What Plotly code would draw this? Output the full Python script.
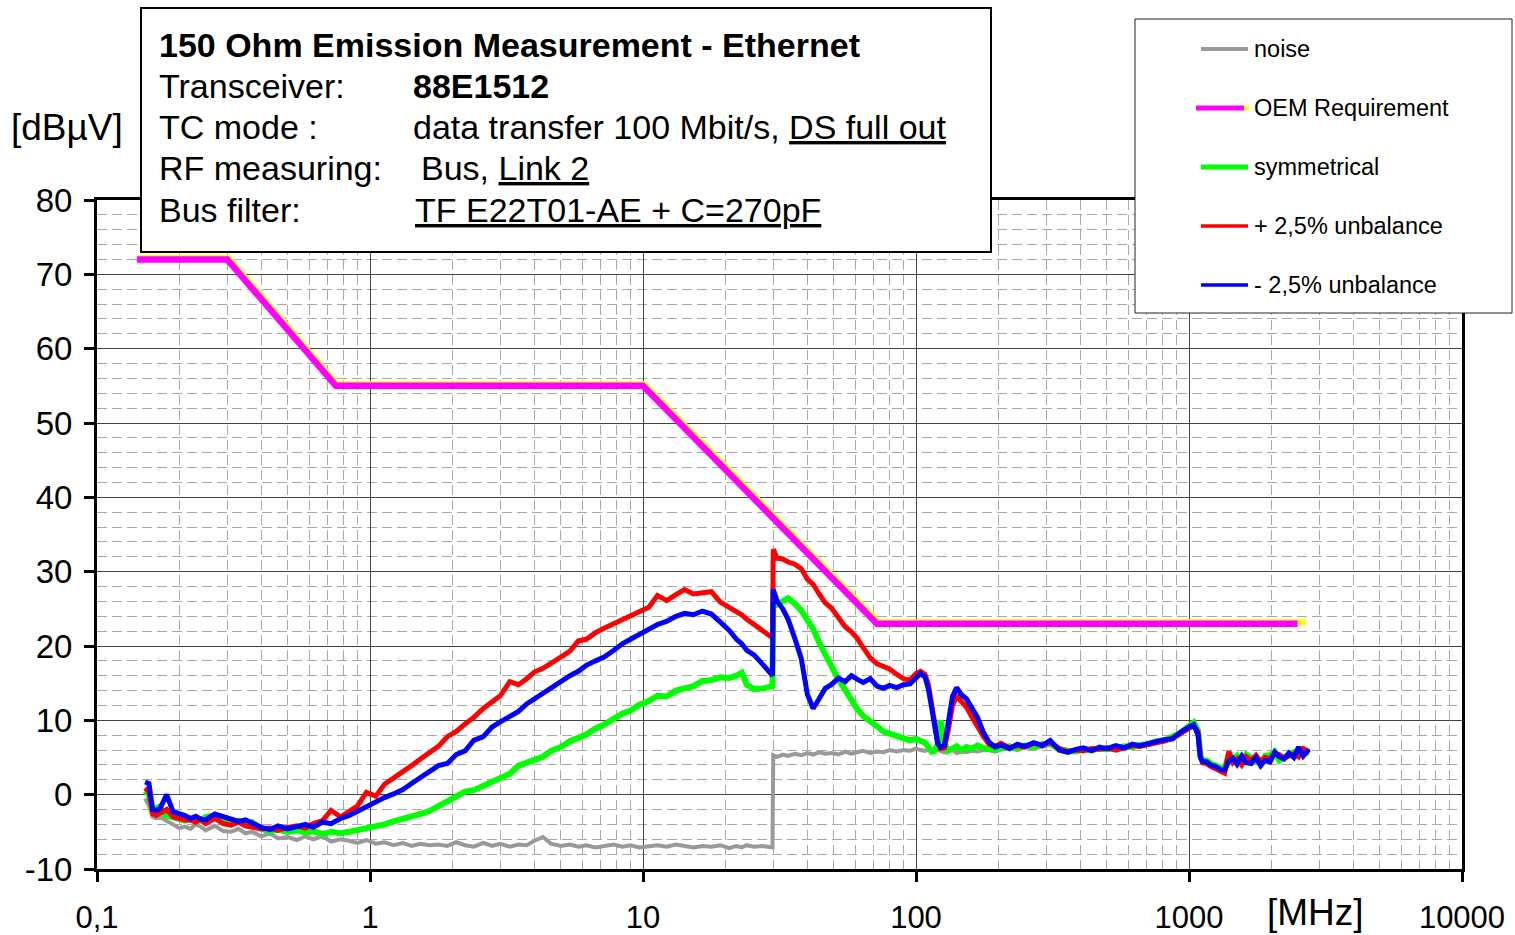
import plotly.graph_objects as go

# ---------------- data ----------------
FREQ_MHZ = [
    0.15, 0.155, 0.16, 0.165, 0.17, 0.175, 0.18, 0.19, 0.2, 0.21,
    0.22, 0.23, 0.24, 0.25, 0.27, 0.29, 0.31, 0.33, 0.35, 0.37,
    0.4, 0.43, 0.46, 0.5, 0.54, 0.58, 0.62, 0.67, 0.72, 0.78,
    0.84, 0.9, 0.97, 1.05, 1.13, 1.22, 1.32, 1.42, 1.53, 1.65,
    1.78, 1.92, 2.07, 2.23, 2.4, 2.6, 2.8, 3.0, 3.25, 3.5,
    3.75, 4.0, 4.3, 4.6, 5.0, 5.4, 5.8, 6.2, 6.7, 7.2,
    7.8, 8.4, 9.0, 9.7, 10.5, 11.3, 12.2, 13.2, 14.2, 15.3,
    16.5, 17.8, 19.2, 20.7, 22.0, 23.0, 24.0, 25.5, 27.5, 29.8,
    30.0, 31.0, 32.5, 34.0, 36.0, 38.0, 40.0, 42.0, 44.0, 46.5,
    49, 52, 55, 58, 61, 64, 68, 72, 76, 80,
    85, 90, 95, 100, 104, 108, 111, 114, 117, 120,
    123, 127, 131, 136, 141, 147, 153, 160, 168, 176,
    185, 195, 205, 220, 235, 250, 270, 290, 310, 335,
    360, 385, 410, 440, 470, 500, 540, 580, 620, 660,
    710, 760, 810, 870, 930, 990, 1040, 1080, 1100, 1120,
    1160, 1200, 1250, 1300, 1350, 1400, 1450, 1500, 1560, 1620,
    1690, 1760, 1830, 1900, 1980, 2060, 2140, 2230, 2320, 2420,
    2520, 2620, 2750,
]

NOISE = [
    -0.5, -1.5, -3.0, -3.2, -3.0, -3.3, -3.5, -4.0, -4.5, -4.3,
    -4.6, -4.0, -4.3, -4.8, -4.2, -4.9, -5.0, -4.6, -5.2, -5.0,
    -5.6, -5.2, -5.9, -5.7, -6.1, -5.6, -6.0, -5.6, -6.3, -6.0,
    -6.2, -6.5, -6.1, -6.6, -6.4, -6.8, -6.5, -6.9, -6.6, -6.8,
    -6.7, -6.9, -6.4, -6.8, -7.0, -6.5, -6.9, -6.6, -7.0, -6.7,
    -6.8, -6.2, -5.7, -6.6, -6.9, -6.7, -7.0, -6.8, -7.1, -6.9,
    -6.7, -7.0, -6.8, -7.1, -6.9, -6.8, -7.0, -6.7, -6.9, -7.1,
    -6.9, -7.0, -6.8, -7.2, -6.9, -7.1, -6.8, -7.0, -6.9, -7.1,
    5.3, 5.1, 5.4, 5.2, 5.5, 5.3, 5.6, 5.4, 5.7, 5.5,
    5.6, 5.4, 5.8, 5.5, 5.7, 5.9, 5.6, 5.8, 5.7, 6.0,
    5.8, 6.0, 5.9, 6.2, 6.0, 5.9, 6.1, 5.8, 5.9, 6.0,
    5.9, 5.7, 5.8, 6.0, 5.6, 5.8, 5.7, 5.9, 5.8, 6.0,
    6.0, 5.8, 6.1, 6.3, 6.0, 6.4, 6.2, 6.5, 6.7, 5.9,
    5.7, 5.9, 5.8, 6.0, 6.1, 6.0, 6.2, 6.4, 6.3, 6.6,
    6.7, 7.0, 7.1, 7.5, 8.1, 8.9, 9.5, 8.3, 5.1, 4.4,
    4.3, 4.0, 3.7, 3.3, 3.1, 5.0, 4.4, 4.9, 4.2, 5.0,
    4.7, 4.3, 4.2, 5.0, 5.1, 5.6, 4.7, 4.9, 5.3, 5.5,
    5.2, 5.8, 5.5,
]

SYMMETRICAL = [
    0.5, 0.0, -2.5, -1.8, -1.6, -2.6, -2.8, -3.0, -3.3, -3.5,
    -3.3, -3.2, -3.5, -3.0, -2.8, -3.2, -3.8, -3.5, -3.9, -3.7,
    -4.6, -4.9, -4.7, -5.0, -4.8, -5.1, -4.9, -5.3, -5.0, -5.2,
    -5.0, -4.8, -4.6, -4.3, -4.0, -3.6, -3.3, -2.9, -2.6, -2.2,
    -1.6, -0.9, -0.2, 0.4, 0.6, 1.2, 1.9, 2.3, 2.8, 3.9,
    4.3, 4.6, 5.1, 5.9, 6.4, 7.2, 7.7, 8.1, 8.9, 9.4,
    10.2, 10.9, 11.3, 12.1, 12.6, 13.3, 13.2, 14.0, 14.3, 14.6,
    15.3, 15.4, 15.8, 15.7, 16.0, 16.4, 14.8, 14.2, 14.3, 14.6,
    26.0, 25.6, 26.0, 26.4, 25.7, 24.8, 23.5, 22.3, 20.6, 18.8,
    17.0, 15.5, 14.1, 12.6, 11.5, 10.6, 10.0, 9.2, 8.5, 8.2,
    8.0, 7.7, 7.3, 7.5, 7.2, 7.0, 6.4, 5.8, 5.9, 6.8,
    10.0, 7.0, 5.9, 6.1, 6.5, 6.0, 6.4, 6.2, 6.6, 6.3,
    6.2, 6.0, 6.3, 6.5, 6.2, 6.6, 6.4, 6.8, 6.9, 6.1,
    5.9, 5.8, 6.1, 6.0, 6.2, 6.1, 6.3, 6.5, 6.4, 6.7,
    6.8, 7.2, 7.3, 7.8, 8.3, 9.1, 9.7, 8.6, 5.3, 4.6,
    4.6, 4.2, 3.9, 3.6, 3.4, 5.5, 4.7, 5.2, 4.4, 5.4,
    4.9, 4.4, 4.1, 5.2, 5.3, 5.8, 4.6, 5.0, 5.4, 5.7,
    5.3, 5.9, 5.6,
]

PLUS_UNBAL = [
    0.9, 0.4, -2.6, -2.8, -2.5, -2.2, -2.0, -3.0, -3.2, -3.4,
    -3.4, -3.7, -3.3, -3.9, -3.2, -3.9, -4.1, -3.7, -4.2, -4.4,
    -4.6, -4.5, -4.8, -4.4, -4.2, -4.5, -3.9, -3.5, -2.1, -3.0,
    -2.2, -1.5, 0.3, -0.2, 1.4, 2.2, 3.0, 3.9, 4.8, 5.6,
    6.5, 7.8, 8.5, 9.5, 10.4, 11.6, 12.5, 13.3, 15.2, 14.8,
    15.6, 16.5, 17.0, 17.6, 18.5, 19.3, 20.7, 20.9, 21.8, 22.4,
    23.0, 23.6, 24.2, 24.7, 25.2, 26.8, 26.1, 26.9, 27.6, 27.0,
    27.2, 27.3, 25.9, 25.2, 24.6, 24.2, 23.6, 22.9, 22.0, 21.1,
    33.0, 31.8, 31.7, 31.3, 31.0, 30.4, 29.0, 28.3, 27.1, 25.8,
    25.1, 23.9, 22.6, 21.9, 21.0, 19.8, 18.4, 17.6, 17.3, 16.9,
    16.2, 15.6, 15.4, 16.3, 16.6, 16.2, 14.8, 12.2, 9.5, 7.2,
    6.2, 6.3, 8.5, 12.0, 13.2, 12.6, 11.8, 10.5, 9.1, 7.9,
    6.8, 6.5, 6.9, 6.3, 6.6, 6.4, 6.9, 6.7, 7.0, 6.2,
    5.8, 6.0, 5.9, 6.2, 6.1, 6.3, 6.0, 6.4, 6.6, 6.5,
    6.7, 7.0, 7.2, 7.6, 8.2, 8.8, 9.3, 8.4, 5.2, 4.3,
    4.2, 3.8, 3.5, 3.1, 2.9, 5.8, 4.3, 4.8, 4.0, 5.1,
    4.6, 5.3, 4.5, 5.0, 4.8, 5.6, 5.4, 4.9, 5.2, 5.5,
    5.1, 6.2, 5.8,
]

MINUS_UNBAL = [
    1.7, 1.5, -2.0, -2.1, -1.9, -1.0, 0.0, -2.3, -2.5, -2.8,
    -3.2, -2.9, -3.3, -3.4, -2.6, -3.0, -3.3, -3.6, -3.4, -3.8,
    -4.4, -4.7, -4.2, -4.6, -4.3, -4.0, -4.4, -3.7, -3.9, -3.2,
    -2.8, -2.2, -1.6, -1.0, -0.4, 0.1, 0.7, 1.5, 2.3, 3.1,
    3.9, 4.2, 5.4, 5.9, 7.3, 7.8, 9.1, 9.8, 10.5, 11.2,
    12.2, 12.9, 13.5, 14.4, 15.2, 16.0, 16.6, 17.4, 18.0, 18.5,
    19.4, 20.3, 20.9, 21.5, 22.3, 22.9, 23.3, 24.0, 24.4, 24.2,
    24.7, 24.3, 23.2, 22.1, 20.9, 20.3, 19.4, 18.8, 17.5, 16.0,
    27.6, 26.0, 25.0, 23.6, 21.0, 18.3, 13.5, 11.6, 12.8, 14.3,
    14.8, 15.7, 15.2, 16.0, 15.5, 15.1, 15.6, 14.6, 14.3, 14.7,
    14.4, 14.8, 14.9, 15.6, 16.3, 15.8, 14.2, 11.8, 9.0, 6.9,
    6.4, 6.6, 9.5, 13.2, 14.4, 13.4, 12.9, 11.8, 10.4, 8.5,
    7.1, 6.4, 6.7, 6.2, 6.8, 6.5, 7.0, 6.6, 7.3, 6.0,
    5.7, 6.1, 6.3, 5.9, 6.4, 6.2, 6.6, 6.3, 6.8, 6.6,
    6.9, 7.1, 7.4, 7.5, 8.4, 9.0, 9.4, 8.0, 5.0, 4.5,
    4.4, 4.0, 3.8, 3.4, 3.3, 4.5, 4.9, 4.1, 5.2, 4.3,
    4.2, 5.0, 3.9, 4.6, 4.4, 5.7, 5.1, 4.8, 5.6, 5.0,
    6.4, 5.2, 6.1,
]

OEM_FREQ = [0.14, 0.3, 0.75, 10, 72, 2500]
OEM_LIMIT = [72, 72, 55, 55, 23, 23]

X_TICKS = [0.1, 1, 10, 100, 1000, 10000]
X_TICK_TEXT = ["0,1", "1", "10", "100", "1000", "10000"]
Y_TICKS = [-10, 0, 10, 20, 30, 40, 50, 60, 70, 80]
Y_TICK_TEXT = ["-10", "0", "10", "20", "30", "40", "50", "60", "70", "80"]

SERIES_NAMES = ["noise", "OEM Requirement", "symmetrical",
                "+ 2,5% unbalance", "- 2,5% unbalance"]

# ---------------- styling ----------------
FONT = "Arial, Liberation Sans, sans-serif"
W, H = 1515, 935
L, R, T, B = 97, 1462, 200, 869  # plot-area pixel box


def px(X):
    return (X - L) / (R - L)


def py(Y):
    return (B - Y) / (B - T)


fig = go.Figure()

fig.add_trace(go.Scatter(x=FREQ_MHZ, y=NOISE, mode="lines", name=SERIES_NAMES[0],
                         line=dict(color="#999999", width=4), showlegend=False))
# yellow rim of the requirement line (slightly offset behind the magenta)
fig.add_trace(go.Scatter(x=[f * 1.012 for f in OEM_FREQ[:-1]] + [OEM_FREQ[-1] * 1.07],
                         y=[v + 0.2 for v in OEM_LIMIT], mode="lines",
                         line=dict(color="#FFFF00", width=6), showlegend=False,
                         hoverinfo="skip"))
fig.add_trace(go.Scatter(x=OEM_FREQ, y=OEM_LIMIT, mode="lines", name=SERIES_NAMES[1],
                         line=dict(color="#FF00FF", width=6.5), showlegend=False))
fig.add_trace(go.Scatter(x=FREQ_MHZ, y=SYMMETRICAL, mode="lines", name=SERIES_NAMES[2],
                         line=dict(color="#00FF00", width=6), showlegend=False))
fig.add_trace(go.Scatter(x=FREQ_MHZ, y=PLUS_UNBAL, mode="lines", name=SERIES_NAMES[3],
                         line=dict(color="#FF0000", width=5), showlegend=False))
fig.add_trace(go.Scatter(x=FREQ_MHZ, y=MINUS_UNBAL, mode="lines", name=SERIES_NAMES[4],
                         line=dict(color="#0000FF", width=5), showlegend=False))

x_minor = [m * 10 ** e for e in range(-1, 4) for m in range(2, 10)]

fig.update_xaxes(
    type="log", range=[-1, 4], automargin=False,
    tickmode="array", tickvals=X_TICKS, ticktext=X_TICK_TEXT,
    ticks="outside", ticklen=10, tickwidth=3, tickcolor="black",
    ticklabelstandoff=9,
    tickfont=dict(family=FONT, size=31, color="black"),
    showline=True, linewidth=3, linecolor="black", mirror=True,
    showgrid=True, gridcolor="#444444", gridwidth=1,
    minor=dict(tickmode="array", tickvals=x_minor, showgrid=True,
               gridcolor="#a8a8a8", gridwidth=1.2, griddash="10px,5px", ticks=""),
    zeroline=False,
)
fig.update_yaxes(
    range=[-10, 80], automargin=False,
    tickmode="array", tickvals=Y_TICKS, ticktext=Y_TICK_TEXT,
    ticks="outside", ticklen=10, tickwidth=3, tickcolor="black",
    ticklabelstandoff=5,
    tickfont=dict(family=FONT, size=33, color="black"),
    showline=True, linewidth=3, linecolor="black", mirror=True,
    showgrid=True, gridcolor="#444444", gridwidth=1,
    minor=dict(dtick=2, showgrid=True, gridcolor="#a8a8a8", gridwidth=1.2,
               griddash="10px,5px", ticks=""),
    zeroline=False,
)

shapes = []
annotations = []

# info box
shapes.append(dict(type="rect", xref="paper", yref="paper",
                   x0=px(141), x1=px(991), y0=py(252), y1=py(8),
                   line=dict(color="black", width=2), fillcolor="white", layer="above"))
box_font = dict(family=FONT, size=34, color="black")
rows = [
    (45, "<b>150 Ohm Emission Measurement - Ethernet</b>", None, None),
    (86, "Transceiver:", "<b>88E1512</b>", 412),
    (127, "TC mode :", "data transfer 100 Mbit/s, <u>DS full out</u>", 412),
    (168, "RF measuring:", "Bus, <u>Link 2</u>", 420),
    (210, "Bus filter:", "<u>TF E22T01-AE + C=270pF</u>", 414),
]
for yy, lab, val, vx in rows:
    annotations.append(dict(xref="paper", yref="paper", x=px(157), y=py(yy),
                            xanchor="left", yanchor="middle", text=lab,
                            showarrow=False, font=box_font))
    if val:
        annotations.append(dict(xref="paper", yref="paper", x=px(vx - 1), y=py(yy),
                                xanchor="left", yanchor="middle", text=val,
                                showarrow=False, font=box_font))

# legend box
shapes.append(dict(type="rect", xref="paper", yref="paper",
                   x0=px(1135), x1=px(1512), y0=py(313), y1=py(19),
                   line=dict(color="#222222", width=1), fillcolor="white", layer="above"))
leg_rows = [
    (49, SERIES_NAMES[0], "#999999", 1201, 1248, 4),
    (108, SERIES_NAMES[1], "#FF00FF", 1196, 1244, 5),
    (167, SERIES_NAMES[2], "#00FF00", 1201, 1248, 5),
    (226, SERIES_NAMES[3], "#FF0000", 1201, 1248, 3.5),
    (285, SERIES_NAMES[4], "#0000FF", 1201, 1248, 3.5),
]
for yy, name, col, xa, xb, wdt in leg_rows:
    if name == SERIES_NAMES[1]:
        shapes.append(dict(type="line", xref="paper", yref="paper",
                           x0=px(1243), x1=px(1249), y0=py(yy), y1=py(yy),
                           line=dict(color="#FFFF00", width=wdt), layer="above"))
    shapes.append(dict(type="line", xref="paper", yref="paper",
                       x0=px(xa), x1=px(xb), y0=py(yy), y1=py(yy),
                       line=dict(color=col, width=wdt), layer="above"))
    annotations.append(dict(xref="paper", yref="paper", x=px(1252), y=py(yy),
                            xanchor="left", yanchor="middle", text=name,
                            showarrow=False,
                            font=dict(family=FONT, size=23.5, color="black")))

# axis titles
annotations.append(dict(xref="paper", yref="paper", x=px(67), y=py(127),
                        xanchor="center", yanchor="middle", text="[dBµV]",
                        showarrow=False, font=dict(family=FONT, size=37, color="black")))
annotations.append(dict(xref="paper", yref="paper", x=px(1315), y=py(913),
                        xanchor="center", yanchor="middle", text="[MHz]",
                        showarrow=False, font=dict(family=FONT, size=37, color="black")))

fig.update_layout(
    width=W, height=H,
    margin=dict(l=L, r=W - R, t=T, b=H - B, pad=0, autoexpand=False),
    paper_bgcolor="white", plot_bgcolor="white",
    showlegend=False,
    shapes=shapes, annotations=annotations,
    font=dict(family=FONT, color="black"),
)

fig.write_html("out.html")
